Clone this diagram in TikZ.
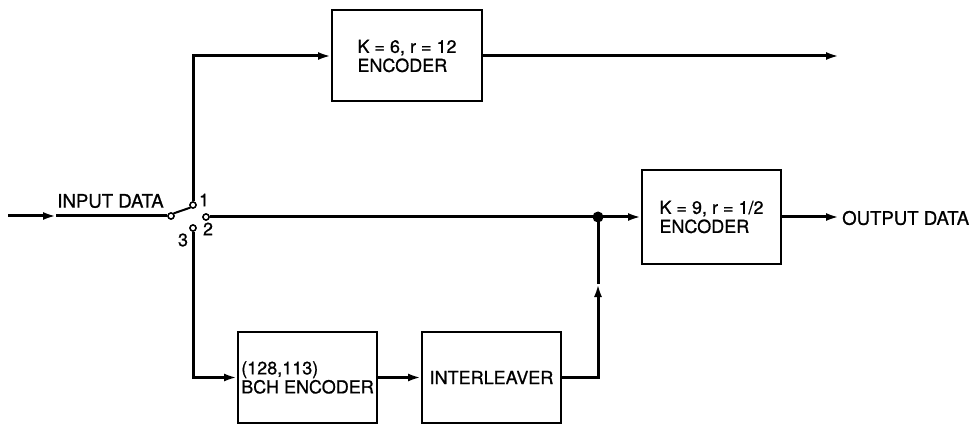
\documentclass[tikz,border=0pt]{standalone}
\usepackage{fontspec}
\setmainfont{TeX Gyre Heros}[RawFeature={embolden=0.8}]
\usetikzlibrary{arrows.meta}
\begin{document}
\begin{tikzpicture}[x=1pt,y=-1pt,
  font=\fontsize{18}{19}\selectfont,
  blk/.style={draw,line width=2pt,minimum width=139pt,minimum height=91pt,align=left,inner sep=0pt},
  wire/.style={line width=3pt},
  arr/.style={wire,-{Latex[length=13pt,width=8pt]}},
  pin/.style={circle,draw,fill=white,line width=1.4pt,minimum size=6pt,inner sep=0pt},
  lbl/.style={inner sep=0pt}]
\useasboundingbox (0,0) rectangle (970,425);
% blocks
\node[blk,minimum width=150pt] (enc1) at (407,56) {K = 6, r = 12\\ENCODER};
\node[blk,minimum height=94pt] (enc2) at (711.5,217) {K = 9, r = 1/2\\ENCODER};
\node[blk] (bch) at (307.5,377.5) {(128,113)\\BCH ENCODER};
\node[blk] (intl) at (491.5,377.5) {INTERLEAVER};
% switch pins
\node[pin] (in) at (171,216) {};
\node[pin] (p1) at (193,205) {};
\node[pin] (p2) at (206,217) {};
\node[pin] (p3) at (193,228) {};
\node[lbl] (l1) at (204,200) {1};
\node[lbl] (l2) at (208,229) {2};
\node[lbl] (l3) at (183,240) {3};
\node[lbl,font=\fontsize{18.6}{19}\selectfont] (inlbl) at (110.5,201) {INPUT DATA};
% coordinates
\coordinate (start) at (8,216);
\coordinate (inarrow) at (56,216);
\coordinate (topout) at (839,56);
\coordinate (outend) at (839,217);
\coordinate (varrow) at (598,284);
\node[circle,fill=black,minimum size=11pt,inner sep=0pt] (junc) at (598,217) {};
\node[lbl,anchor=west,font=\fontsize{18.6}{19}\selectfont] (outlbl) at (842,218) {OUTPUT DATA};
% connectors
\draw[arr] (start) -- (inarrow);
\draw[wire] (inarrow) -- (in.west);
\draw[wire,line width=2pt] (in.north east) -- (p1.south west);
\draw[arr] (p1.north) |- (enc1.west);
\draw[arr] (enc1.east) -- (topout);
\draw[wire] (p2.east) -- (junc.center);
\draw[arr] (junc.center) -- (enc2.west);
\draw[arr] (enc2.east) -- (outend);
\draw[arr] (p3.south) |- (bch.west);
\draw[arr] (bch.east) -- (intl.west);
\draw[arr] (intl.east) -| (varrow);
\draw[wire] (varrow) -- (junc.center);
% redraw pins on top
\foreach \p in {in,p1,p2,p3} \node[pin] at (\p) {};
\end{tikzpicture}
\end{document}
